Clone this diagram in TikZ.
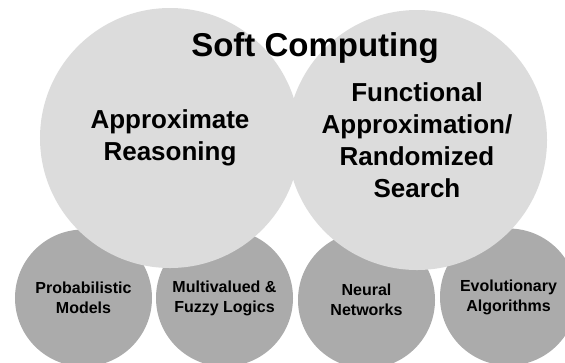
\documentclass[tikz,border=0pt]{standalone}
\usepackage{fontspec}
\setmainfont{Liberation Sans}
\definecolor{lightdisc}{RGB}{220,220,220}
\definecolor{darkdisc}{RGB}{171,171,171}
\begin{document}
\begin{tikzpicture}[x=1bp, y=-1bp,
        bigdisc/.style = {circle, fill=lightdisc, minimum size=260bp, inner sep=0pt,
                          align=center, font=\bfseries\fontsize{26bp}{32bp}\selectfont},
        smalldisc/.style = {circle, fill=darkdisc, minimum size=137bp, inner sep=0pt,
                            align=center, font=\bfseries\fontsize{16bp}{20bp}\selectfont},
        title/.style = {font=\bfseries\fontsize{33bp}{36bp}\selectfont}]
                \useasboundingbox (0,0) rectangle (565,362);

                % lower row
                \node[smalldisc] (prob)  at (83.5,298)  {Probabilistic\\Models};
                \node[smalldisc] (fuzzy) at (224.5,298) {Multivalued \&\\Fuzzy Logics};
                \node[smalldisc] (nn)    at (366.5,300) {Neural\\Networks};
                \node[smalldisc] (evo)   at (508.5,297) {Evolutionary\\Algorithms};

                % upper pair
                \node[bigdisc] (approx) at (170,138) {Approximate\\Reasoning};
                \node[bigdisc] (func)   at (417,140) {Functional\\Approximation/\\Randomized\\Search};

                \node[title] (soft) at (315,48) {Soft Computing};
            \end{tikzpicture}
\end{document}
